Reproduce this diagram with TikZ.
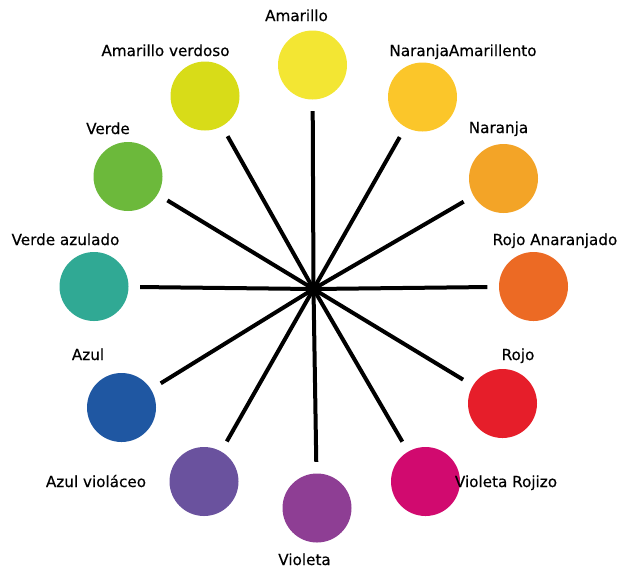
\documentclass[tikz,border=0pt]{standalone}
\usepackage{fontspec}
\setmainfont{DejaVu Sans}
\newfontfamily\labelfont{DejaVu Sans}[BoldFont={DejaVu Sans}, BoldFeatures={FakeBold=0.4}]
\usetikzlibrary{positioning}
\definecolor{amarillo}{HTML}{F3E633}
\definecolor{amarilloverdoso}{HTML}{D8DC18}
\definecolor{verde}{HTML}{6CB93B}
\definecolor{verdeazulado}{HTML}{30A994}
\definecolor{azul}{HTML}{1F57A2}
\definecolor{azulviolaceo}{HTML}{6A529E}
\definecolor{violeta}{HTML}{8E3E94}
\definecolor{violetarojizo}{HTML}{D10A6F}
\definecolor{rojo}{HTML}{E61E2A}
\definecolor{rojoanaranjado}{HTML}{EC6A24}
\definecolor{naranja}{HTML}{F3A427}
\definecolor{naranjaamarillento}{HTML}{FBC62A}
\tikzset{
  swatch/.style={circle, inner sep=0pt, minimum size=34.5pt, fill=#1},
  spoke/.style={line width=2pt, black, shorten >=5.6pt},
  hubdot/.style={circle, fill=black, inner sep=0pt, minimum size=4pt},
  colorlabel/.style={anchor=base, inner sep=0pt, font=\labelfont\bfseries\fontsize{7.6}{9}\selectfont}
}
\begin{document}
\begin{tikzpicture}[x=0.5pt,y=-0.5pt]
  \useasboundingbox (0,0) rectangle (627,570);
  % color circles
  \node[swatch=amarillo] (amarillo) at (312.5,65) {};
  \node[swatch=naranjaamarillento] (naramar) at (422.5,97) {};
  \node[swatch=naranja] (naranja) at (503.5,178.5) {};
  \node[swatch=rojoanaranjado] (rojoanar) at (533.5,286.5) {};
  \node[swatch=rojo] (rojo) at (502.5,403.5) {};
  \node[swatch=violetarojizo] (violroj) at (425.5,481.5) {};
  \node[swatch=violeta] (violeta) at (317,508) {};
  \node[swatch=azulviolaceo] (azulviol) at (204,481.5) {};
  \node[swatch=azul] (azul) at (121.5,407.5) {};
  \node[swatch=verdeazulado] (verdeazul) at (94,286.5) {};
  \node[swatch=verde] (verde) at (128,176.5) {};
  \node[swatch=amarilloverdoso] (amarverd) at (205,96) {};
  % spokes
  \node[hubdot] (hub) at (313.5,289) {};
  \foreach \c in {amarillo,naramar,naranja,rojoanar,rojo,violroj,violeta,azulviol,azul,verdeazul,verde,amarverd}
    \draw[spoke] (hub.center) -- (\c);
  % labels
  \node[colorlabel] (lamarillo) at (296.5,21) {Amarillo};
  \node[colorlabel] (lnaramar) at (463,56) {NaranjaAmarillento};
  \node[colorlabel] (lnaranja) at (498.5,133) {Naranja};
  \node[colorlabel] (lrojoanar) at (555,245) {Rojo Anaranjado};
  \node[colorlabel] (lrojo) at (518,360) {Rojo};
  \node[colorlabel] (lviolroj) at (506,487) {Violeta Rojizo};
  \node[colorlabel] (lvioleta) at (304.5,565) {Violeta};
  \node[colorlabel] (lazulviol) at (96,487) {Azul violáceo};
  \node[colorlabel] (lazul) at (88,360) {Azul};
  \node[colorlabel] (lverdeazul) at (65.5,245) {Verde azulado};
  \node[colorlabel] (lverde) at (108,134) {Verde};
  \node[colorlabel] (lamarverd) at (165.5,56) {Amarillo verdoso};
\end{tikzpicture}
\end{document}
